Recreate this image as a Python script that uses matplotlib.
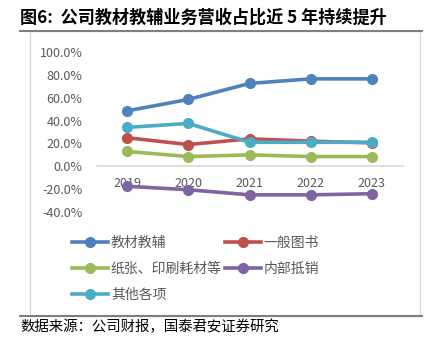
import matplotlib
matplotlib.use("Agg")
import matplotlib.pyplot as plt
from matplotlib.lines import Line2D
from matplotlib.patches import Rectangle
from matplotlib.ticker import FuncFormatter

plt.rcParams['font.family'] = ['Noto Sans CJK SC', 'DejaVu Sans']

years = ['2019', '2020', '2021', '2022', '2023']
jiaocai = [48.5, 58.5, 72.5, 76.5, 76.5]
tushu = [25.0, 19.0, 24.0, 22.0, 20.5]
zhizhang = [13.0, 8.5, 10.0, 8.5, 8.5]
dixiao = [-17.5, -20.5, -25.0, -25.0, -24.0]
qita = [34.0, 37.5, 21.0, 21.0, 21.0]

names = ['教材教辅', '一般图书', '纸张、印刷耗材等', '内部抵销', '其他各项']
colors = ['#4F81BD', '#C0504D', '#9BBB59', '#8064A2', '#4BACC6']
series = [jiaocai, tushu, zhizhang, dixiao, qita]

W, H = 430, 340
fig = plt.figure(figsize=(4.3, 3.4), dpi=100)

# frame and rules
fig.patches.append(Rectangle((30 / W, 1 - 316 / H), 390 / W, 285 / H, transform=fig.transFigure,
                             fill=False, edgecolor='#D9D9D9', lw=1))
fig.lines.append(Line2D([20 / W, 422 / W], [1 - 31 / H, 1 - 31 / H], transform=fig.transFigure,
                        color='#7F7F7F', lw=1.5))
fig.lines.append(Line2D([20 / W, 422 / W], [1 - 316 / H, 1 - 316 / H], transform=fig.transFigure,
                        color='#7F7F7F', lw=1.5))

fig.text(20 / W, 1 - 18 / H, '图6:  公司教材教辅业务营收占比近 5 年持续提升', fontsize=12.3,
         fontweight='bold', va='center', ha='left')
fig.text(20 / W, 1 - 327 / H, '数据来源：公司财报，国泰君安证券研究', fontsize=10.4,
         va='center', ha='left')

ax = fig.add_axes([96.5 / W, 1 - 212 / H, 306 / W, 160 / H])
x = list(range(len(years)))
handles = []
for vals, name, c in zip(series, names, colors):
    h, = ax.plot(x, vals, color=c, lw=2.6, marker='o', markersize=7, label=name)
    handles.append(h)

ax.set_xlim(-0.5, len(years) - 0.5)
ax.set_ylim(-40, 100)
ax.set_yticks(range(-40, 101, 20))
ax.yaxis.set_major_formatter(FuncFormatter(lambda v, p: '%.1f%%' % v))
ax.set_xticks(x)
ax.set_xticklabels(years)
for s in ['top', 'right', 'left']:
    ax.spines[s].set_visible(False)
ax.spines['bottom'].set_position(('data', 0))
ax.spines['bottom'].set_color('#D9D9D9')
ax.spines['bottom'].set_linewidth(1.2)
ax.spines['bottom'].set_zorder(0)
ax.tick_params(axis='both', length=0, labelsize=9, colors='#595959')
ax.tick_params(axis='y', pad=10)
ax.tick_params(axis='x', pad=8)
ax.patch.set_alpha(0)

# legend fills column by column, so reorder to read row by row
order = [0, 2, 4, 1, 3]
fig.legend(handles=[handles[i] for i in order], loc='upper left',
           bbox_to_anchor=(72 / W, 1 - 236 / H), ncol=2,
           frameon=False, fontsize=10, handlelength=2.6, handletextpad=0.2,
           columnspacing=0.2, labelspacing=0.85, borderpad=0, borderaxespad=0,
           labelcolor='#595959')

fig.savefig('out.png', dpi=100)
